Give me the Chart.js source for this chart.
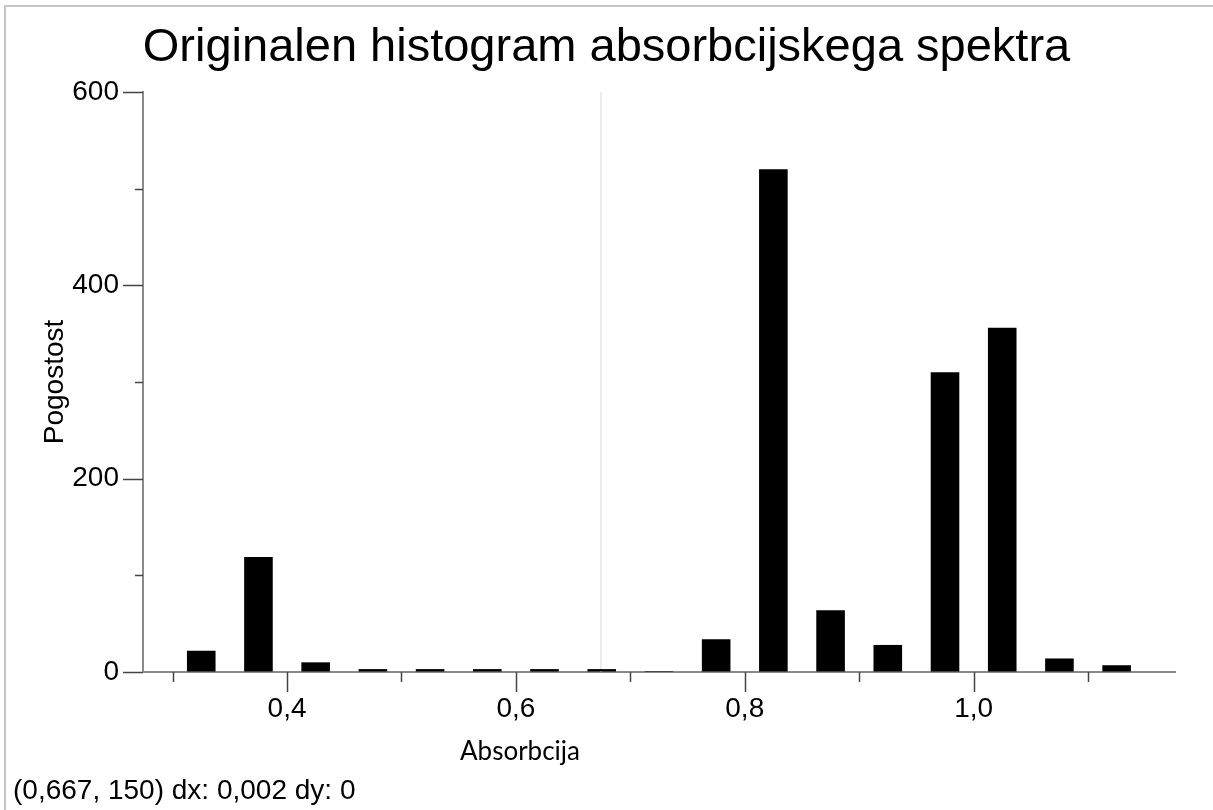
<!DOCTYPE html>
<html>
<head>
<meta charset="utf-8">
<title>Originalen histogram absorbcijskega spektra</title>
<script src="https://cdn.jsdelivr.net/npm/chart.js@4"></script>
<style>
  html, body { margin: 0; padding: 0; background: #fff; overflow: hidden; }
  #wrap { position: relative; width: 1213px; height: 810px; overflow: hidden; }
  #frame { position: absolute; left: 4px; top: 5px; width: 1240px; height: 840px; border: 2px solid #c6c6c6; }
  #myChart { position: absolute; left: 0; top: 0; }
  .lbl { position: absolute; white-space: nowrap; color: #000; }
  #xTitle { font-family: Lato, "Open Sans", sans-serif; font-size: 26px; line-height: 26px; left: 520px; top: 737px; transform: translateX(-50%); }
  #status { font-family: "Liberation Sans", Arial, sans-serif; font-size: 28px; line-height: 28px; left: 13px; top: 776px; }
</style>
</head>
<body>
<div id="wrap">
  <div id="frame"></div>
  <canvas id="myChart" width="1213" height="810"></canvas>
  <div class="lbl" id="xTitle">Absorbcija</div>
  <div class="lbl" id="status">(0,667, 150) dx: 0,002 dy: 0</div>
</div>
<script>
const binCenters = [0.325, 0.375, 0.425, 0.475, 0.525, 0.575, 0.625, 0.675, 0.725,
                    0.775, 0.825, 0.875, 0.925, 0.975, 1.025, 1.075, 1.125];
const counts = [22, 119, 10, 3, 3, 3, 3, 3, 1, 34, 520, 64, 28, 310, 356, 14, 7];

const xTicks = [0.3, 0.4, 0.5, 0.6, 0.7, 0.8, 0.9, 1.0, 1.1];
const xTickLabels = ['', '0,4', '', '0,6', '', '0,8', '', '1,0', ''];
const yTicks = [0, 100, 200, 300, 400, 500, 600];
const yTickLabels = ['0', '', '200', '', '400', '', '600'];

const cursorX = 0.674;

const font = '"Liberation Sans", Arial, sans-serif';

// light grey cursor line behind the bars
const cursorLine = {
  id: 'cursorLine',
  beforeDatasetsDraw(chart) {
    const ctx = chart.ctx;
    const px = Math.round(chart.scales.x.getPixelForValue(cursorX));
    ctx.save();
    ctx.strokeStyle = '#ececec';
    ctx.lineWidth = 2;
    ctx.beginPath();
    ctx.moveTo(px, chart.chartArea.top);
    ctx.lineTo(px, chart.chartArea.bottom);
    ctx.stroke();
    ctx.restore();
  }
};

// long ticks for labelled values, short ones in between
const tickMarks = {
  id: 'tickMarks',
  afterDraw(chart) {
    const ctx = chart.ctx;
    const x = chart.scales.x, y = chart.scales.y;
    const left = chart.chartArea.left, bottom = chart.chartArea.bottom;
    ctx.save();
    ctx.strokeStyle = '#444';
    ctx.lineWidth = 1.5;
    ctx.beginPath();
    xTicks.forEach((v, i) => {
      const px = Math.round(x.getPixelForValue(v)) + 0.5;
      const len = xTickLabels[i] ? 20 : 10;
      ctx.moveTo(px, bottom);
      ctx.lineTo(px, bottom + len);
    });
    yTicks.forEach((v, i) => {
      const py = Math.round(y.getPixelForValue(v)) + 0.5;
      const len = yTickLabels[i] ? 20 : 8;
      ctx.moveTo(left, py);
      ctx.lineTo(left - len, py);
    });
    ctx.stroke();
    ctx.restore();
  }
};

const ctx = document.getElementById('myChart').getContext('2d');

new Chart(ctx, {
  type: 'bar',
  data: {
    datasets: [{
      label: 'Pogostost',
      data: binCenters.map((c, i) => ({ x: c, y: counts[i] })),
      backgroundColor: '#000',
      borderWidth: 0,
      barPercentage: 0.5,
      categoryPercentage: 1.0
    }]
  },
  options: {
    responsive: false,
    animation: false,
    layout: { padding: { left: 38, right: 38, top: 0, bottom: 0 } },
    plugins: {
      legend: { display: false },
      tooltip: { enabled: false },
      title: {
        display: true,
        text: 'Originalen histogram absorbcijskega spektra',
        color: '#000',
        font: { family: font, size: 47, weight: 'normal', lineHeight: 1.2 },
        padding: { top: 20, bottom: 15.6 }
      }
    },
    scales: {
      x: {
        type: 'linear',
        min: 0.2741,
        max: 1.176,
        offset: false,
        afterBuildTicks: s => { s.ticks = xTicks.map(v => ({ value: v })); },
        afterFit: s => { s.height = 138; },
        grid: { offset: false, drawOnChartArea: false, color: 'rgba(0,0,0,0)', tickLength: 20 },
        border: { color: '#8a8a8a', width: 2 },
        ticks: {
          padding: 0,
          maxRotation: 0,
          autoSkip: false,
          color: '#000',
          font: { family: font, size: 28 },
          callback: (v, i) => xTickLabels[i]
        }
      },
      y: {
        min: 0,
        max: 600,
        afterBuildTicks: s => { s.ticks = yTicks.map(v => ({ value: v })); },
        afterFit: s => { s.width = 105; },
        grid: { drawOnChartArea: false, color: 'rgba(0,0,0,0)', tickLength: 20 },
        border: { color: '#8a8a8a', width: 2 },
        title: {
          display: true,
          text: 'Pogostost',
          color: '#000',
          font: { family: font, size: 28 },
          padding: { top: 0, bottom: 0 }
        },
        ticks: {
          padding: 4,
          autoSkip: false,
          color: '#000',
          font: { family: font, size: 28 },
          callback: (v, i) => yTickLabels[i]
        }
      }
    }
  },
  plugins: [cursorLine, tickMarks]
});
</script>
</body>
</html>
